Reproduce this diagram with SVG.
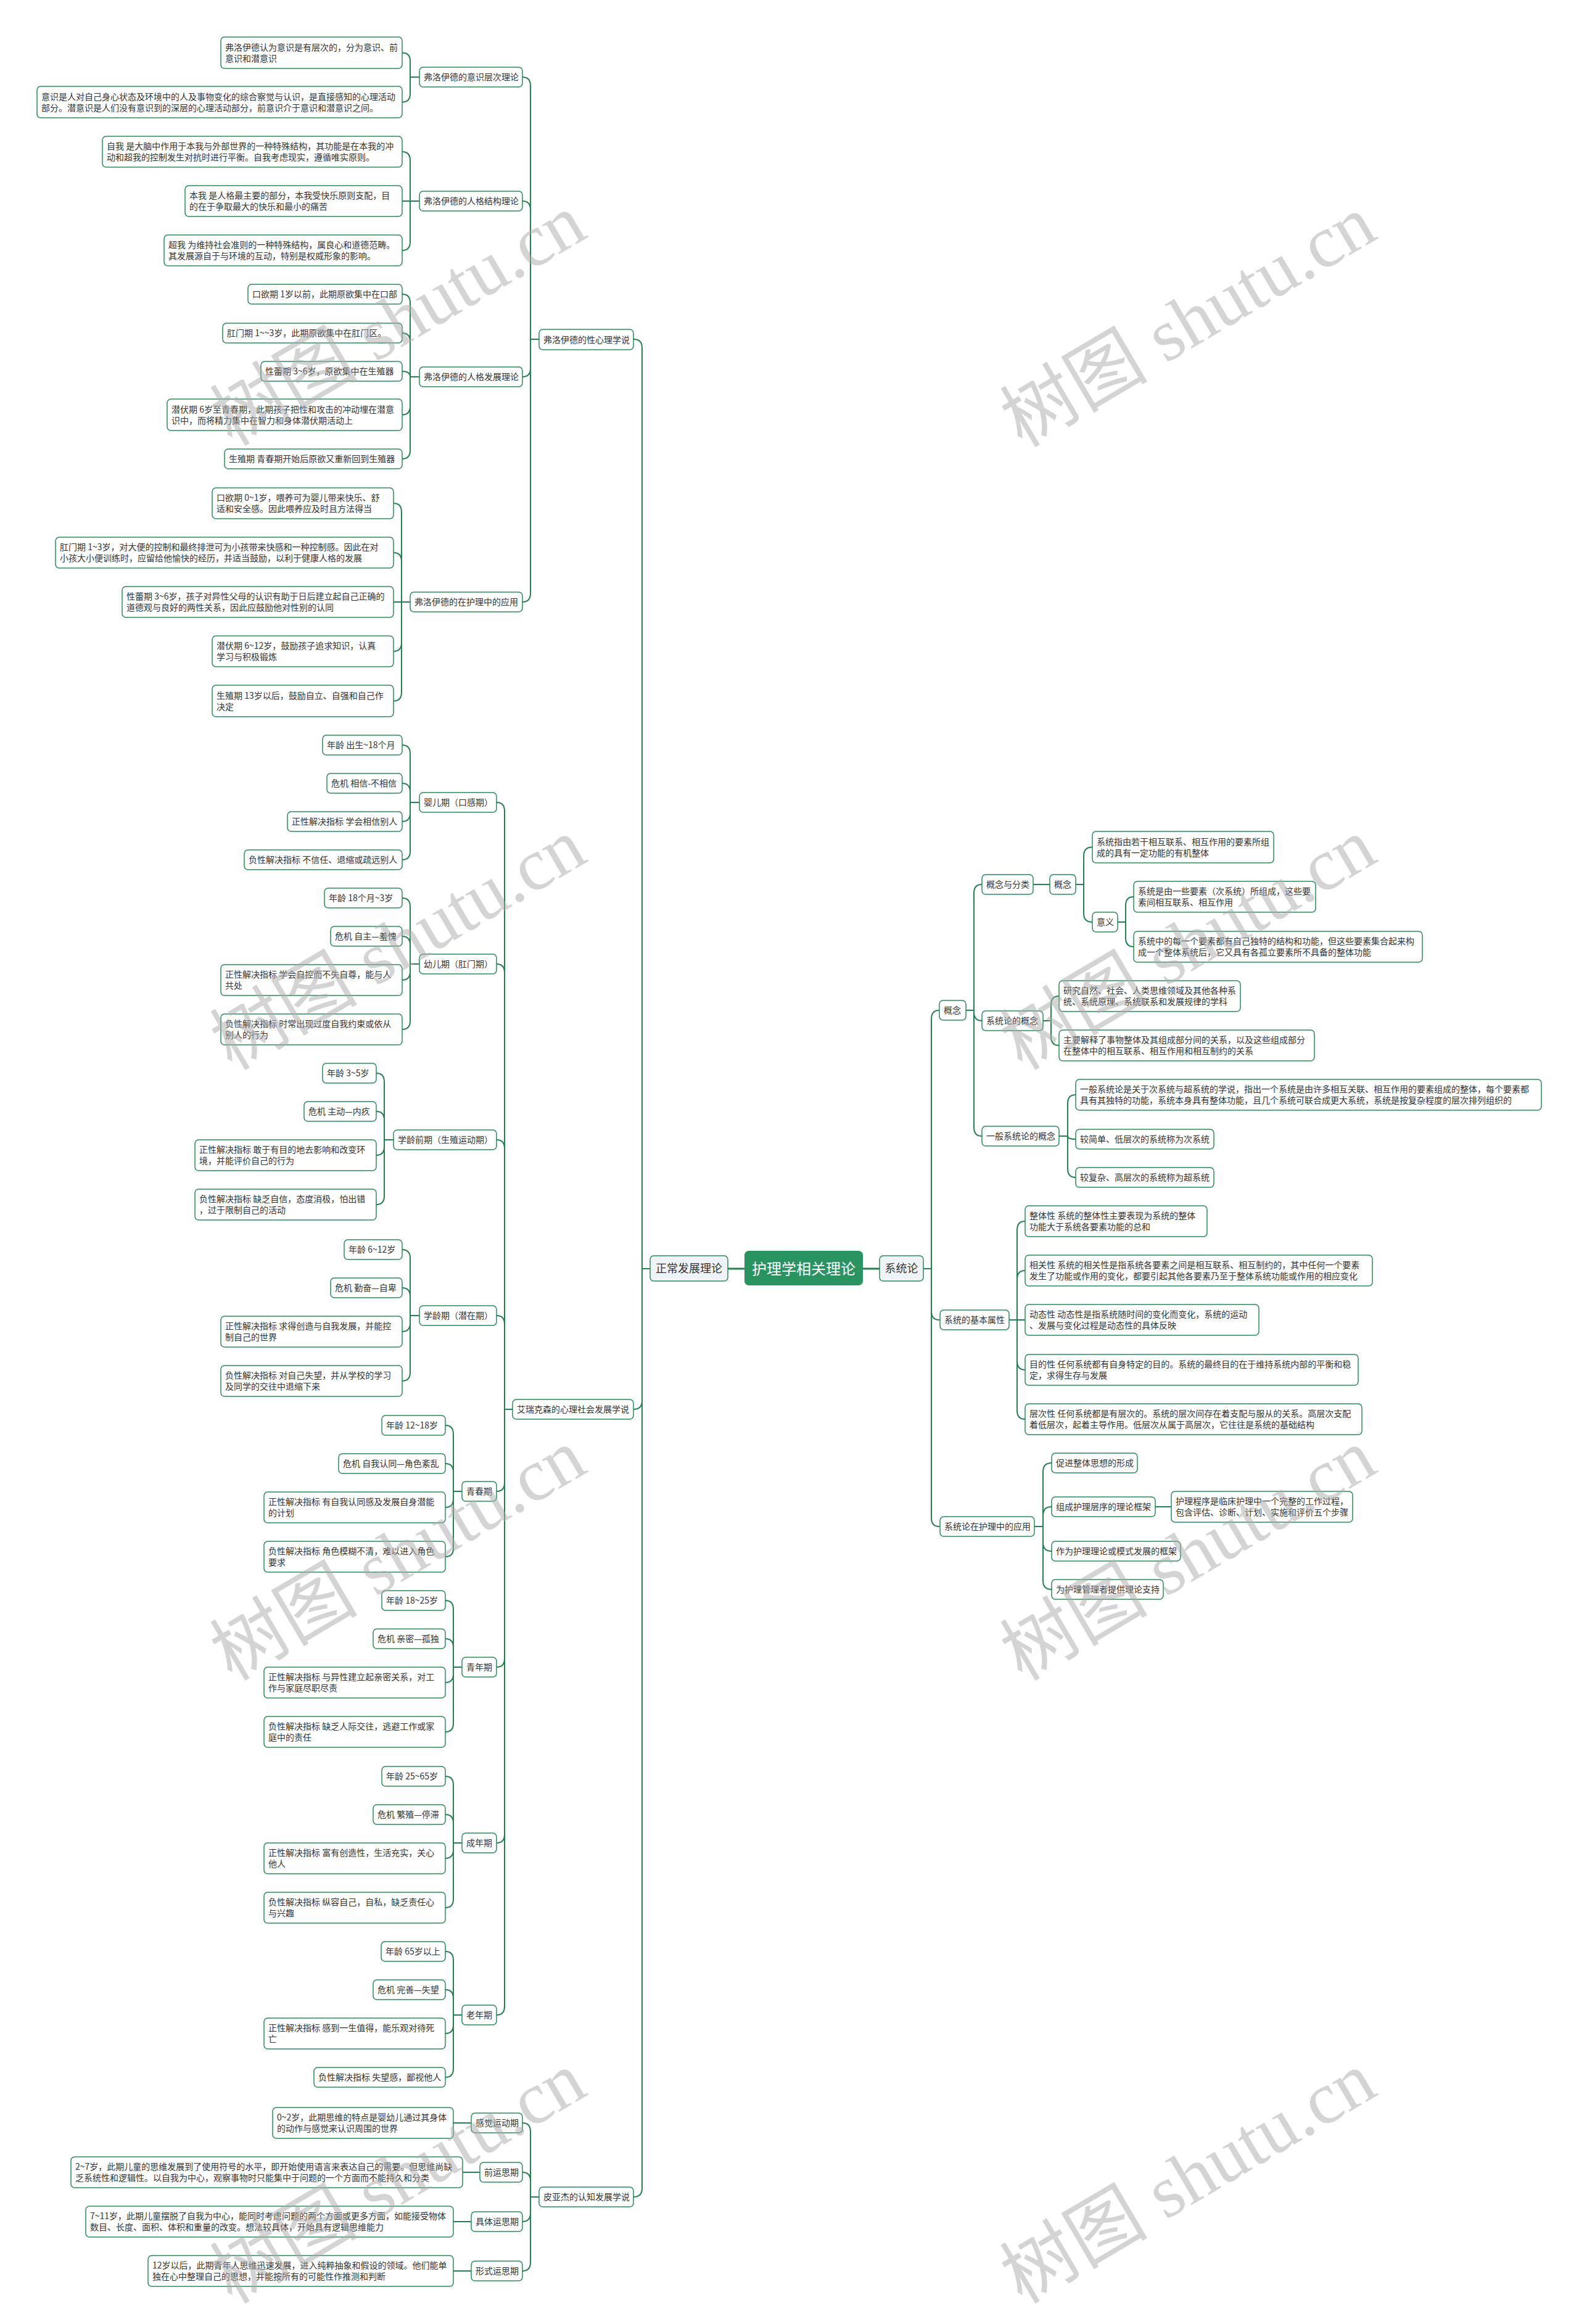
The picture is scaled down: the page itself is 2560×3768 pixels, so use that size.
<svg xmlns="http://www.w3.org/2000/svg" width="2560" height="3768" viewBox="0 0 2560 3768">
<style>
.b{fill:#fff;stroke:#2c8a5c;stroke-width:1.5}
.l1{fill:#f0f3f6;stroke:#2c8a5c;stroke-width:1.5}
.t{font-family:"Noto Sans CJK SC",sans-serif;font-size:14px;fill:#333}
.t1{font-family:"Noto Sans CJK SC",sans-serif;font-size:18px;fill:#333;text-anchor:middle}
.tr{font-family:"Noto Sans CJK SC",sans-serif;font-size:24px;fill:#fff;text-anchor:middle}
.c path{fill:none;stroke:#23804f;stroke-width:2}
.c path.k{stroke-width:3}
.w{font-family:"Liberation Serif","Noto Sans CJK SC",serif;font-size:120px;fill:#aaa;fill-opacity:.5;text-anchor:middle}
</style>
<rect width="2560" height="3768" fill="#fff"/>
<g id="connectors" class="c">
<path class="k" d="M1180,2057H1207M1399,2057H1426"/>
<path d="M1054,2057H1041V564Q1041,550 1027,550M1054,2057H1041V2271Q1041,2285 1027,2285M1054,2057H1041V3548Q1041,3562 1027,3562"/>
<path d="M874,550H860V139Q860,125 847,125M874,550H860V340Q860,326 847,326M874,550H860V597Q860,611 847,611M874,550H860V962Q860,976 847,976"/>
<path d="M680,125H665V99Q665,85.5 652,85.5M680,125H665V152Q665,165.5 652,165.5"/>
<path d="M680,326H665V260Q665,246 652,246M680,326H652M680,326H665V392Q665,406 652,406"/>
<path d="M680,611H665V491Q665,477 652,477M680,611H665V554Q665,540 652,540M680,611H665Q665,602 652,602M680,611H665V658.5Q665,672.5 652,672.5M680,611H665V730Q665,744 652,744"/>
<path d="M665,976H651V830Q651,816 638,816M665,976H651V910Q651,896 638,896M665,976H638M665,976H651V1042Q651,1056 638,1056M665,976H651V1122.5Q651,1136.5 638,1136.5"/>
<path d="M831,2285H818V1315Q818,1301 805,1301M831,2285H818V1577Q818,1563 805,1563M831,2285H818V1862Q818,1848 805,1848M831,2285H818V2147Q818,2133 805,2133M831,2285H818V2404Q818,2418 805,2418M831,2285H818V2689Q818,2703 805,2703M831,2285H818V2974Q818,2988 805,2988M831,2285H818V3253Q818,3267 805,3267"/>
<path d="M680,1301H665V1222Q665,1208 652,1208M680,1301H665V1284Q665,1270 652,1270M680,1301H665V1318Q665,1332 652,1332M680,1301H665V1380Q665,1394 652,1394"/>
<path d="M680,1563H665V1470Q665,1456 652,1456M680,1563H665V1532Q665,1518 652,1518M680,1563H665V1575Q665,1589 652,1589M680,1563H665V1655Q665,1669 652,1669"/>
<path d="M638,1848H623V1754Q623,1740 610,1740M638,1848H623V1816Q623,1802 610,1802M638,1848H623V1859Q623,1873 610,1873M638,1848H623V1939Q623,1953 610,1953"/>
<path d="M680,2133H665V2040Q665,2026 652,2026M680,2133H665V2102Q665,2088 652,2088M680,2133H665V2145Q665,2159 652,2159M680,2133H665V2225Q665,2239 652,2239"/>
<path d="M749,2418H735V2325Q735,2311 722,2311M749,2418H735V2387Q735,2373 722,2373M749,2418H735V2430Q735,2444 722,2444M749,2418H735V2510Q735,2524 722,2524"/>
<path d="M749,2703H735V2609Q735,2595 722,2595M749,2703H735V2671Q735,2657 722,2657M749,2703H735V2714Q735,2728 722,2728M749,2703H735V2794Q735,2808 722,2808"/>
<path d="M749,2988H735V2894Q735,2880 722,2880M749,2988H735V2956Q735,2942 722,2942M749,2988H735V2999Q735,3013 722,3013M749,2988H735V3079Q735,3093 722,3093"/>
<path d="M749,3267H735V3178Q735,3164 722,3164M749,3267H735V3240Q735,3226 722,3226M749,3267H735V3283Q735,3297 722,3297M749,3267H735V3354Q735,3368 722,3368"/>
<path d="M874,3562H860V3456Q860,3442 847,3442M874,3562H860V3536Q860,3522 847,3522M874,3562H860V3588Q860,3602 847,3602M874,3562H860V3668Q860,3682 847,3682"/>
<path d="M764,3442H735M778,3522H750M764,3602H735M764,3682H735"/>
<path d="M1497,2057H1510V1652Q1510,1638 1523,1638M1497,2057H1510V2126Q1510,2140 1523,2140M1497,2057H1510V2461Q1510,2475 1523,2475"/>
<path d="M1566,1638H1579V1448Q1579,1434 1592,1434M1566,1638H1579V1641Q1579,1655 1592,1655M1566,1638H1579V1828Q1579,1842 1592,1842"/>
<path d="M1675,1434H1702"/>
<path d="M1744,1434H1757V1387.5Q1757,1373.5 1771,1373.5M1744,1434H1757V1481Q1757,1495 1771,1495"/>
<path d="M1812,1495H1825V1468Q1825,1454 1838,1454M1812,1495H1825V1521Q1825,1535 1838,1535"/>
<path d="M1691,1655H1704V1629Q1704,1615 1717,1615M1691,1655H1704V1681Q1704,1695 1717,1695"/>
<path d="M1717,1842H1731V1789Q1731,1775 1744,1775M1717,1842H1731Q1731,1847 1744,1847M1717,1842H1731V1895Q1731,1909 1744,1909"/>
<path d="M1636,2140H1649V1994Q1649,1980 1662,1980M1636,2140H1649V2074Q1649,2060 1662,2060M1636,2140H1662M1636,2140H1649V2207Q1649,2221 1662,2221M1636,2140H1649V2287Q1649,2301 1662,2301"/>
<path d="M1677,2475H1691V2386Q1691,2372 1705,2372M1677,2475H1691V2457Q1691,2443 1705,2443M1677,2475H1691V2501Q1691,2515 1705,2515M1677,2475H1691V2563Q1691,2577 1705,2577"/>
<path d="M1873,2443H1899"/>
</g>
<g id="root"><rect x="1207" y="2028" width="192" height="56" rx="7" fill="#2a9461"/><text class="tr" x="1303" y="2066">护理学相关理论</text></g>
<g id="n-normal"><rect class="l1" x="1054" y="2036" width="126" height="41" rx="6"/><text class="t1" x="1117" y="2063">正常发展理论</text></g>
<g id="n-system"><rect class="l1" x="1426" y="2036" width="71" height="41" rx="6"/><text class="t1" x="1461.5" y="2063">系统论</text></g>

<g id="C1"><rect class="b" x="874" y="534" width="153" height="33" rx="6"/><text class="t" x="881" y="555.5">弗洛伊德的性心理学说</text></g>
<g id="C2"><rect class="b" x="831" y="2269" width="196" height="32" rx="6"/><text class="t" x="838" y="2290">艾瑞克森的心理社会发展学说</text></g>
<g id="C3"><rect class="b" x="874" y="3546" width="153" height="32" rx="6"/><text class="t" x="881" y="3567">皮亚杰的认知发展学说</text></g>
<g id="B1"><rect class="b" x="680" y="109" width="167" height="32" rx="6"/><text class="t" x="687" y="130">弗洛伊德的意识层次理论</text></g>
<g id="B2"><rect class="b" x="680" y="310" width="167" height="32" rx="6"/><text class="t" x="687" y="331">弗洛伊德的人格结构理论</text></g>
<g id="B3"><rect class="b" x="680" y="595" width="167" height="32" rx="6"/><text class="t" x="687" y="616">弗洛伊德的人格发展理论</text></g>
<g id="B4"><rect class="b" x="665" y="960" width="182" height="32" rx="6"/><text class="t" x="672" y="981">弗洛伊德的在护理中的应用</text></g>
<g id="A1"><rect class="b" x="358" y="60" width="294" height="51" rx="6"/><text class="t"><tspan x="365" y="81.5">弗洛伊德认为意识是有层次的，分为意识、前</tspan><tspan x="365" y="99.5">意识和潜意识</tspan></text></g>
<g id="A2"><rect class="b" x="60" y="140" width="592" height="51" rx="6"/><text class="t"><tspan x="67" y="161.5">意识是人对自己身心状态及环境中的人及事物变化的综合察觉与认识，是直接感知的心理活动</tspan><tspan x="67" y="179.5">部分。潜意识是人们没有意识到的深层的心理活动部分，前意识介于意识和潜意识之间。</tspan></text></g>
<g id="A3"><rect class="b" x="166" y="221" width="486" height="50" rx="6"/><text class="t"><tspan x="173" y="242">自我 是大脑中作用于本我与外部世界的一种特殊结构，其功能是在本我的冲</tspan><tspan x="173" y="260">动和超我的控制发生对抗时进行平衡。自我考虑现实，遵循唯实原则。</tspan></text></g>
<g id="A4"><rect class="b" x="300" y="301" width="352" height="50" rx="6"/><text class="t"><tspan x="307" y="322">本我 是人格最主要的部分，本我受快乐原则支配，目</tspan><tspan x="307" y="340">的在于争取最大的快乐和最小的痛苦</tspan></text></g>
<g id="A5"><rect class="b" x="266" y="381" width="386" height="50" rx="6"/><text class="t"><tspan x="273" y="402">超我 为维持社会准则的一种特殊结构，属良心和道德范畴。</tspan><tspan x="273" y="420">其发展源自于与环境的互动，特别是权威形象的影响。</tspan></text></g>
<g id="A6"><rect class="b" x="402" y="461" width="250" height="32" rx="6"/><text class="t" x="409" y="482">口欲期 1岁以前，此期原欲集中在口部</text></g>
<g id="A7"><rect class="b" x="361" y="524" width="291" height="32" rx="6"/><text class="t" x="368" y="545">肛门期 1~~3岁，此期原欲集中在肛门区。</text></g>
<g id="A8"><rect class="b" x="423" y="586" width="229" height="32" rx="6"/><text class="t" x="430" y="607">性蕾期 3~6岁，原欲集中在生殖器</text></g>
<g id="A9"><rect class="b" x="271" y="647" width="381" height="51" rx="6"/><text class="t"><tspan x="278" y="668.5">潜伏期 6岁至青春期，此期孩子把性和攻击的冲动埋在潜意</tspan><tspan x="278" y="686.5">识中，而将精力集中在智力和身体潜伏期活动上</tspan></text></g>
<g id="A10"><rect class="b" x="364" y="728" width="288" height="32" rx="6"/><text class="t" x="371" y="749">生殖期 青春期开始后原欲又重新回到生殖器</text></g>
<g id="A11"><rect class="b" x="344" y="791" width="294" height="50" rx="6"/><text class="t"><tspan x="351" y="812">口欲期 0~1岁，喂养可为婴儿带来快乐、舒</tspan><tspan x="351" y="830">适和安全感。因此喂养应及时且方法得当</tspan></text></g>
<g id="A12"><rect class="b" x="90" y="871" width="548" height="50" rx="6"/><text class="t"><tspan x="97" y="892">肛门期 1~3岁，对大便的控制和最终排泄可为小孩带来快感和一种控制感。因此在对</tspan><tspan x="97" y="910">小孩大小便训练时，应留给他愉快的经历，并适当鼓励，以利于健康人格的发展</tspan></text></g>
<g id="A13"><rect class="b" x="198" y="951" width="440" height="50" rx="6"/><text class="t"><tspan x="205" y="972">性蕾期 3~6岁，孩子对异性父母的认识有助于日后建立起自己正确的</tspan><tspan x="205" y="990">道德观与良好的两性关系，因此应鼓励他对性别的认同</tspan></text></g>
<g id="A14"><rect class="b" x="344" y="1031" width="294" height="50" rx="6"/><text class="t"><tspan x="351" y="1052">潜伏期 6~12岁，鼓励孩子追求知识，认真</tspan><tspan x="351" y="1070">学习与积极锻炼</tspan></text></g>
<g id="A15"><rect class="b" x="344" y="1111" width="294" height="51" rx="6"/><text class="t"><tspan x="351" y="1132.5">生殖期 13岁以后，鼓励自立、自强和自己作</tspan><tspan x="351" y="1150.5">决定</tspan></text></g>

<g id="E1"><rect class="b" x="680" y="1285" width="125" height="32" rx="6"/><text class="t" x="687" y="1306">婴儿期（口感期）</text></g>
<g id="E2"><rect class="b" x="680" y="1547" width="125" height="32" rx="6"/><text class="t" x="687" y="1568">幼儿期（肛门期）</text></g>
<g id="E3"><rect class="b" x="638" y="1832" width="167" height="32" rx="6"/><text class="t" x="645" y="1853">学龄前期（生殖运动期）</text></g>
<g id="E4"><rect class="b" x="680" y="2117" width="125" height="32" rx="6"/><text class="t" x="687" y="2138">学龄期（潜在期）</text></g>
<g id="E5"><rect class="b" x="749" y="2402" width="56" height="32" rx="6"/><text class="t" x="756" y="2423">青春期</text></g>
<g id="E6"><rect class="b" x="749" y="2687" width="56" height="32" rx="6"/><text class="t" x="756" y="2708">青年期</text></g>
<g id="E7"><rect class="b" x="749" y="2972" width="56" height="32" rx="6"/><text class="t" x="756" y="2993">成年期</text></g>
<g id="E8"><rect class="b" x="749" y="3251" width="56" height="32" rx="6"/><text class="t" x="756" y="3272">老年期</text></g>

<g id="D1"><rect class="b" x="523" y="1192" width="129" height="32" rx="6"/><text class="t" x="530" y="1213">年龄 出生~18个月</text></g>
<g id="D2"><rect class="b" x="530" y="1254" width="122" height="32" rx="6"/><text class="t" x="537" y="1275">危机 相信-不相信</text></g>
<g id="D3"><rect class="b" x="466" y="1316" width="186" height="32" rx="6"/><text class="t" x="473" y="1337">正性解决指标 学会相信别人</text></g>
<g id="D4"><rect class="b" x="396" y="1378" width="256" height="32" rx="6"/><text class="t" x="403" y="1399">负性解决指标 不信任、退缩或疏远别人</text></g>
<g id="D5"><rect class="b" x="526" y="1440" width="126" height="32" rx="6"/><text class="t" x="533" y="1461">年龄 18个月~3岁</text></g>
<g id="D6"><rect class="b" x="536" y="1502" width="116" height="32" rx="6"/><text class="t" x="543" y="1523">危机 自主—羞愧</text></g>
<g id="D7"><rect class="b" x="358" y="1564" width="294" height="50" rx="6"/><text class="t"><tspan x="365" y="1585">正性解决指标 学会自控而不失自尊，能与人</tspan><tspan x="365" y="1603">共处</tspan></text></g>
<g id="D8"><rect class="b" x="358" y="1644" width="294" height="50" rx="6"/><text class="t"><tspan x="365" y="1665">负性解决指标 时常出现过度自我约束或依从</tspan><tspan x="365" y="1683">别人的行为</tspan></text></g>
<g id="D9"><rect class="b" x="523" y="1724" width="87" height="32" rx="6"/><text class="t" x="530" y="1745">年龄 3~5岁</text></g>
<g id="D10"><rect class="b" x="493" y="1786" width="117" height="32" rx="6"/><text class="t" x="500" y="1807">危机 主动—内疚</text></g>
<g id="D11"><rect class="b" x="316" y="1848" width="294" height="50" rx="6"/><text class="t"><tspan x="323" y="1869">正性解决指标 敢于有目的地去影响和改变环</tspan><tspan x="323" y="1887">境，并能评价自己的行为</tspan></text></g>
<g id="D12"><rect class="b" x="316" y="1928" width="294" height="50" rx="6"/><text class="t"><tspan x="323" y="1949">负性解决指标 缺乏自信，态度消极，怕出错</tspan><tspan x="323" y="1967">，过于限制自己的活动</tspan></text></g>
<g id="D13"><rect class="b" x="558" y="2010" width="94" height="32" rx="6"/><text class="t" x="565" y="2031">年龄 6~12岁</text></g>
<g id="D14"><rect class="b" x="536" y="2072" width="116" height="32" rx="6"/><text class="t" x="543" y="2093">危机 勤奋—自卑</text></g>
<g id="D15"><rect class="b" x="358" y="2134" width="294" height="50" rx="6"/><text class="t"><tspan x="365" y="2155">正性解决指标 求得创造与自我发展，并能控</tspan><tspan x="365" y="2173">制自己的世界</tspan></text></g>
<g id="D16"><rect class="b" x="358" y="2214" width="294" height="50" rx="6"/><text class="t"><tspan x="365" y="2235">负性解决指标 对自己失望，并从学校的学习</tspan><tspan x="365" y="2253">及同学的交往中退缩下来</tspan></text></g>
<g id="D17"><rect class="b" x="619" y="2295" width="103" height="32" rx="6"/><text class="t" x="626" y="2316">年龄 12~18岁</text></g>
<g id="D18"><rect class="b" x="549" y="2357" width="173" height="32" rx="6"/><text class="t" x="556" y="2378">危机 自我认同—角色紊乱</text></g>
<g id="D19"><rect class="b" x="428" y="2419" width="294" height="50" rx="6"/><text class="t"><tspan x="435" y="2440">正性解决指标 有自我认同感及发展自身潜能</tspan><tspan x="435" y="2458">的计划</tspan></text></g>
<g id="D20"><rect class="b" x="428" y="2499" width="294" height="50" rx="6"/><text class="t"><tspan x="435" y="2520">负性解决指标 角色模糊不清，难以进入角色</tspan><tspan x="435" y="2538">要求</tspan></text></g>
<g id="D21"><rect class="b" x="619" y="2579" width="103" height="32" rx="6"/><text class="t" x="626" y="2600">年龄 18~25岁</text></g>
<g id="D22"><rect class="b" x="605" y="2641" width="117" height="32" rx="6"/><text class="t" x="612" y="2662">危机 亲密—孤独</text></g>
<g id="D23"><rect class="b" x="428" y="2703" width="294" height="50" rx="6"/><text class="t"><tspan x="435" y="2724">正性解决指标 与异性建立起亲密关系，对工</tspan><tspan x="435" y="2742">作与家庭尽职尽责</tspan></text></g>
<g id="D24"><rect class="b" x="428" y="2783" width="294" height="50" rx="6"/><text class="t"><tspan x="435" y="2804">负性解决指标 缺乏人际交往，逃避工作或家</tspan><tspan x="435" y="2822">庭中的责任</tspan></text></g>
<g id="D25"><rect class="b" x="619" y="2864" width="103" height="32" rx="6"/><text class="t" x="626" y="2885">年龄 25~65岁</text></g>
<g id="D26"><rect class="b" x="605" y="2926" width="117" height="32" rx="6"/><text class="t" x="612" y="2947">危机 繁殖—停滞</text></g>
<g id="D27"><rect class="b" x="428" y="2988" width="294" height="50" rx="6"/><text class="t"><tspan x="435" y="3009">正性解决指标 富有创造性，生活充实，关心</tspan><tspan x="435" y="3027">他人</tspan></text></g>
<g id="D28"><rect class="b" x="428" y="3068" width="294" height="50" rx="6"/><text class="t"><tspan x="435" y="3089">负性解决指标 纵容自己，自私，缺乏责任心</tspan><tspan x="435" y="3107">与兴趣</tspan></text></g>
<g id="D29"><rect class="b" x="618" y="3148" width="104" height="32" rx="6"/><text class="t" x="625" y="3169">年龄 65岁以上</text></g>
<g id="D30"><rect class="b" x="605" y="3210" width="117" height="32" rx="6"/><text class="t" x="612" y="3231">危机 完善—失望</text></g>
<g id="D31"><rect class="b" x="428" y="3272" width="294" height="50" rx="6"/><text class="t"><tspan x="435" y="3293">正性解决指标 感到一生值得，能乐观对待死</tspan><tspan x="435" y="3311">亡</tspan></text></g>
<g id="D32"><rect class="b" x="509" y="3352" width="213" height="32" rx="6"/><text class="t" x="516" y="3373">负性解决指标 失望感，鄙视他人</text></g>

<g id="Q1"><rect class="b" x="764" y="3426" width="83" height="32" rx="6"/><text class="t" x="771" y="3447">感觉运动期</text></g>
<g id="Q2"><rect class="b" x="778" y="3506" width="69" height="32" rx="6"/><text class="t" x="785" y="3527">前运思期</text></g>
<g id="Q3"><rect class="b" x="764" y="3586" width="83" height="32" rx="6"/><text class="t" x="771" y="3607">具体运思期</text></g>
<g id="Q4"><rect class="b" x="764" y="3666" width="83" height="32" rx="6"/><text class="t" x="771" y="3687">形式运思期</text></g>
<g id="P1"><rect class="b" x="442" y="3417" width="293" height="50" rx="6"/><text class="t"><tspan x="449" y="3438">0~2岁，此期思维的特点是婴幼儿通过其身体</tspan><tspan x="449" y="3456">的动作与感觉来认识周围的世界</tspan></text></g>
<g id="P2"><rect class="b" x="115" y="3497" width="635" height="50" rx="6"/><text class="t"><tspan x="122" y="3518">2~7岁，此期儿童的思维发展到了使用符号的水平，即开始使用语言来表达自己的需要。但思维尚缺</tspan><tspan x="122" y="3536">乏系统性和逻辑性。以自我为中心，观察事物时只能集中于问题的一个方面而不能持久和分类</tspan></text></g>
<g id="P3"><rect class="b" x="139" y="3577" width="596" height="50" rx="6"/><text class="t"><tspan x="146" y="3598">7~11岁，此期儿童摆脱了自我为中心，能同时考虑问题的两个方面或更多方面，如能接受物体</tspan><tspan x="146" y="3616">数目、长度、面积、体积和重量的改变。想法较具体，开始具有逻辑思维能力</tspan></text></g>
<g id="P4"><rect class="b" x="240" y="3657" width="495" height="50" rx="6"/><text class="t"><tspan x="247" y="3678">12岁以后，此期青年人思维迅速发展，进入纯粹抽象和假设的领域。他们能单</tspan><tspan x="247" y="3696">独在心中整理自己的思想，并能按所有的可能性作推测和判断</tspan></text></g>

<g id="R0"><rect class="b" x="1523" y="1622" width="43" height="32" rx="6"/><text class="t" x="1530" y="1643">概念</text></g>
<g id="R1"><rect class="b" x="1592" y="1418" width="83" height="32" rx="6"/><text class="t" x="1599" y="1439">概念与分类</text></g>
<g id="R2"><rect class="b" x="1702" y="1418" width="42" height="32" rx="6"/><text class="t" x="1709" y="1439">概念</text></g>
<g id="R3"><rect class="b" x="1771" y="1348" width="294" height="51" rx="6"/><text class="t"><tspan x="1778" y="1369.5">系统指由若干相互联系、相互作用的要素所组</tspan><tspan x="1778" y="1387.5">成的具有一定功能的有机整体</tspan></text></g>
<g id="R4"><rect class="b" x="1771" y="1479" width="41" height="32" rx="6"/><text class="t" x="1778" y="1500">意义</text></g>
<g id="R5"><rect class="b" x="1838" y="1429" width="295" height="50" rx="6"/><text class="t"><tspan x="1845" y="1450">系统是由一些要素（次系统）所组成，这些要</tspan><tspan x="1845" y="1468">素间相互联系、相互作用</tspan></text></g>
<g id="R6"><rect class="b" x="1838" y="1510" width="468" height="50" rx="6"/><text class="t"><tspan x="1845" y="1531">系统中的每一个要素都有自己独特的结构和功能，但这些要素集合起来构</tspan><tspan x="1845" y="1549">成一个整体系统后，它又具有各孤立要素所不具备的整体功能</tspan></text></g>
<g id="R7"><rect class="b" x="1592" y="1639" width="99" height="32" rx="6"/><text class="t" x="1599" y="1660">系统论的概念</text></g>
<g id="R8"><rect class="b" x="1717" y="1590" width="294" height="50" rx="6"/><text class="t"><tspan x="1724" y="1611">研究自然、社会、人类思维领域及其他各种系</tspan><tspan x="1724" y="1629">统、系统原理、系统联系和发展规律的学科</tspan></text></g>
<g id="R9"><rect class="b" x="1717" y="1670" width="414" height="50" rx="6"/><text class="t"><tspan x="1724" y="1691">主要解释了事物整体及其组成部分间的关系，以及这些组成部分</tspan><tspan x="1724" y="1709">在整体中的相互联系、相互作用和相互制约的关系</tspan></text></g>
<g id="R10"><rect class="b" x="1592" y="1826" width="125" height="32" rx="6"/><text class="t" x="1599" y="1847">一般系统论的概念</text></g>
<g id="R11"><rect class="b" x="1744" y="1750" width="755" height="50" rx="6"/><text class="t"><tspan x="1751" y="1771">一般系统论是关于次系统与超系统的学说，指出一个系统是由许多相互关联、相互作用的要素组成的整体，每个要素都</tspan><tspan x="1751" y="1789">具有其独特的功能，系统本身具有整体功能，且几个系统可联合成更大系统，系统是按复杂程度的层次排列组织的</tspan></text></g>
<g id="R12"><rect class="b" x="1744" y="1831" width="224" height="32" rx="6"/><text class="t" x="1751" y="1852">较简单、低层次的系统称为次系统</text></g>
<g id="R13"><rect class="b" x="1744" y="1893" width="224" height="32" rx="6"/><text class="t" x="1751" y="1914">较复杂、高层次的系统称为超系统</text></g>
<g id="R19"><rect class="b" x="1524" y="2124" width="112" height="32" rx="6"/><text class="t" x="1531" y="2145">系统的基本属性</text></g>
<g id="R14"><rect class="b" x="1662" y="1955" width="295" height="50" rx="6"/><text class="t"><tspan x="1669" y="1976">整体性 系统的整体性主要表现为系统的整体</tspan><tspan x="1669" y="1994">功能大于系统各要素功能的总和</tspan></text></g>
<g id="R15"><rect class="b" x="1662" y="2035" width="563" height="50" rx="6"/><text class="t"><tspan x="1669" y="2056">相关性 系统的相关性是指系统各要素之间是相互联系、相互制约的，其中任何一个要素</tspan><tspan x="1669" y="2074">发生了功能或作用的变化，都要引起其他各要素乃至于整体系统功能或作用的相应变化</tspan></text></g>
<g id="R16"><rect class="b" x="1662" y="2115" width="379" height="50" rx="6"/><text class="t"><tspan x="1669" y="2136">动态性 动态性是指系统随时间的变化而变化，系统的运动</tspan><tspan x="1669" y="2154">、发展与变化过程是动态性的具体反映</tspan></text></g>
<g id="R17"><rect class="b" x="1662" y="2196" width="540" height="50" rx="6"/><text class="t"><tspan x="1669" y="2217">目的性 任何系统都有自身特定的目的。系统的最终目的在于维持系统内部的平衡和稳</tspan><tspan x="1669" y="2235">定，求得生存与发展</tspan></text></g>
<g id="R18"><rect class="b" x="1662" y="2276" width="546" height="50" rx="6"/><text class="t"><tspan x="1669" y="2297">层次性 任何系统都是有层次的。系统的层次间存在着支配与服从的关系。高层次支配</tspan><tspan x="1669" y="2315">着低层次，起着主导作用。低层次从属于高层次，它往往是系统的基础结构</tspan></text></g>
<g id="R25"><rect class="b" x="1524" y="2459" width="153" height="32" rx="6"/><text class="t" x="1531" y="2480">系统论在护理中的应用</text></g>
<g id="R20"><rect class="b" x="1705" y="2356" width="139" height="32" rx="6"/><text class="t" x="1712" y="2377">促进整体思想的形成</text></g>
<g id="R21"><rect class="b" x="1705" y="2427" width="168" height="32" rx="6"/><text class="t" x="1712" y="2448">组成护理层序的理论框架</text></g>
<g id="R22"><rect class="b" x="1899" y="2418" width="294" height="50" rx="6"/><text class="t"><tspan x="1906" y="2439">护理程序是临床护理中一个完整的工作过程，</tspan><tspan x="1906" y="2457">包含评估、诊断、计划、实施和评价五个步骤</tspan></text></g>
<g id="R23"><rect class="b" x="1705" y="2499" width="209" height="32" rx="6"/><text class="t" x="1712" y="2520">作为护理理论或模式发展的框架</text></g>
<g id="R24"><rect class="b" x="1705" y="2561" width="181" height="32" rx="6"/><text class="t" x="1712" y="2582">为护理管理者提供理论支持</text></g>

<g id="watermark">
<text class="w" transform="translate(666,554) rotate(-30.5)">树图 shutu.cn</text>
<text class="w" transform="translate(1947,556) rotate(-30.5)">树图 shutu.cn</text>
<text class="w" transform="translate(666,1566) rotate(-30.5)">树图 shutu.cn</text>
<text class="w" transform="translate(1947,1566) rotate(-30.5)">树图 shutu.cn</text>
<text class="w" transform="translate(666,2556) rotate(-30.5)">树图 shutu.cn</text>
<text class="w" transform="translate(1947,2556) rotate(-30.5)">树图 shutu.cn</text>
<text class="w" transform="translate(666,3566) rotate(-30.5)">树图 shutu.cn</text>
<text class="w" transform="translate(1947,3566) rotate(-30.5)">树图 shutu.cn</text>
</g>
</svg>
